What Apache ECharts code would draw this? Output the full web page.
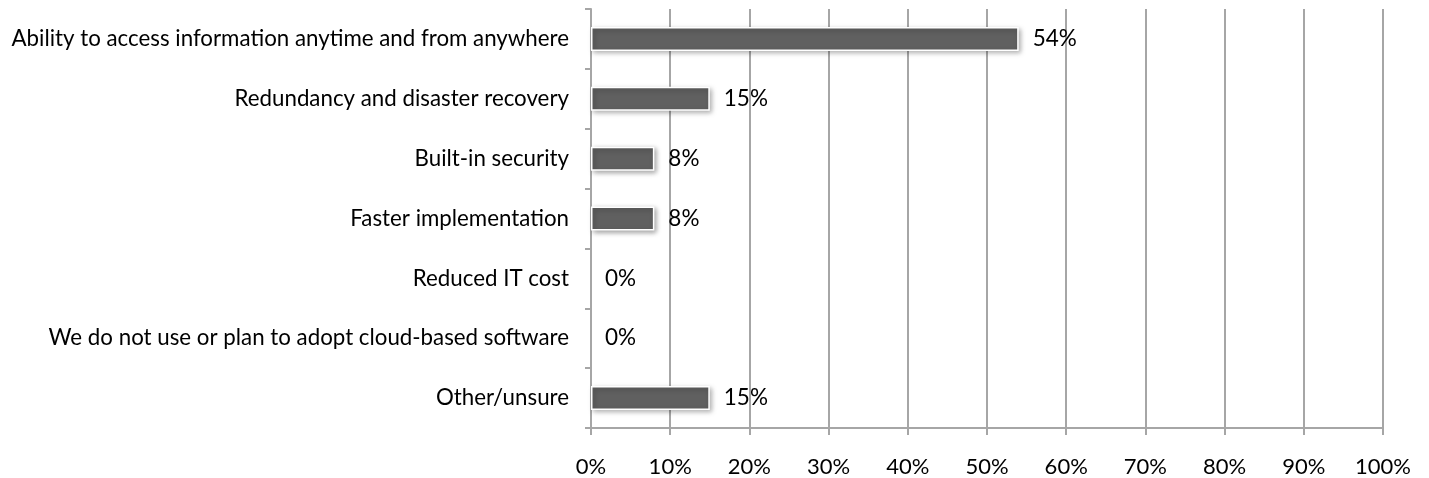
<!DOCTYPE html>
<html>
<head>
<meta charset="utf-8">
<script src="https://cdn.jsdelivr.net/npm/echarts@6/dist/echarts.min.js"></script>
<style>
  html, body { margin: 0; padding: 0; background: #fff; }
  #chart { width: 1429px; height: 478px; }
</style>
</head>
<body>
<div id="chart"></div>
<script>
// categories listed top to bottom
const categories = [
  'Ability to access information anytime and from anywhere',
  'Redundancy and disaster recovery',
  'Built-in security',
  'Faster implementation',
  'Reduced IT cost',
  'We do not use or plan to adopt cloud-based software',
  'Other/unsure'
];
const shares = [54, 15, 8, 8, 0, 0, 15];

const chart = echarts.init(document.getElementById('chart'));
const axisGray = '#a6a6a6';
const font = 'Lato';

chart.setOption({
  animation: false,
  grid: { left: 591, right: 46, top: 9, bottom: 47 },
  xAxis: {
    type: 'value',
    min: 0,
    max: 100,
    interval: 10,
    axisLine: { show: true, lineStyle: { color: axisGray, width: 2 } },
    axisTick: { show: true, length: 7, lineStyle: { color: axisGray, width: 2 } },
    axisLabel: { margin: 28, color: '#000', fontSize: 22, fontFamily: font, formatter: '{value}%' },
    splitLine: { show: true, lineStyle: { color: axisGray, width: 2 } }
  },
  yAxis: {
    type: 'category',
    inverse: true,
    data: categories,
    axisLine: { show: true, lineStyle: { color: axisGray, width: 2 } },
    axisTick: { show: true, length: 6, lineStyle: { color: axisGray, width: 2 } },
    axisLabel: { margin: 22, color: '#000', fontSize: 22.3, fontFamily: font }
  },
  series: [{
    type: 'bar',
    data: shares.map(v => v === 0
      ? { value: v, itemStyle: { borderWidth: 0, shadowBlur: 0, shadowOffsetX: 0, shadowOffsetY: 0 } }
      : v),
    barWidth: 24,
    itemStyle: {
      color: '#606060',
      borderColor: '#fff',
      borderWidth: 1.5,
      shadowColor: 'rgba(0,0,0,0.35)',
      shadowBlur: 5,
      shadowOffsetX: 2,
      shadowOffsetY: 2
    },
    label: {
      show: true,
      position: 'right',
      distance: 14,
      color: '#000',
      fontSize: 22.5,
      fontFamily: font,
      formatter: '{c}%'
    }
  }]
});
</script>
</body>
</html>
